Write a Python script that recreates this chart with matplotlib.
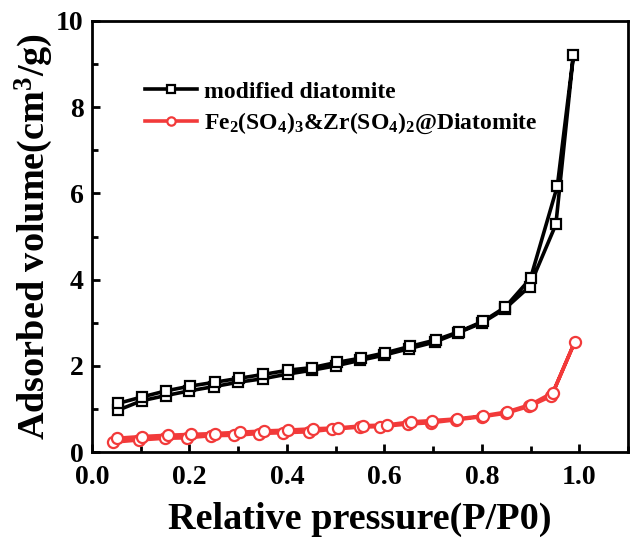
import matplotlib
matplotlib.use('Agg')
import matplotlib.pyplot as plt
from matplotlib.ticker import MultipleLocator

plt.rcParams['font.family'] = ['Liberation Serif', 'DejaVu Serif']
plt.rcParams['font.weight'] = 'bold'
plt.rcParams['mathtext.fontset'] = 'custom'
plt.rcParams['mathtext.rm'] = 'Liberation Serif:bold'
plt.rcParams['mathtext.it'] = 'Liberation Serif:bold'
plt.rcParams['mathtext.bf'] = 'Liberation Serif:bold'

# modified diatomite: adsorption (P/P0 ascending) then desorption (descending)
md_p = [0.053, 0.102, 0.151, 0.200, 0.251, 0.300, 0.350, 0.402, 0.452, 0.500,
        0.551, 0.600, 0.651, 0.703, 0.752, 0.801, 0.847, 0.898, 0.952, 0.988,
        0.955, 0.900, 0.848, 0.802, 0.753, 0.705, 0.652, 0.601, 0.552, 0.502,
        0.452, 0.403, 0.351, 0.301, 0.252, 0.201, 0.152, 0.103, 0.054]
md_v = [0.97, 1.19, 1.31, 1.42, 1.52, 1.62, 1.70, 1.81, 1.90, 2.00,
        2.13, 2.25, 2.40, 2.55, 2.77, 3.00, 3.32, 3.84, 5.28, 9.21,
        6.17, 4.03, 3.36, 3.03, 2.79, 2.60, 2.45, 2.30, 2.18, 2.08,
        1.96, 1.90, 1.80, 1.71, 1.62, 1.53, 1.42, 1.28, 1.13]

# Fe2(SO4)3&Zr(SO4)2@Diatomite
fz_p = [0.043, 0.096, 0.149, 0.194, 0.245, 0.292, 0.343, 0.393, 0.446, 0.493,
        0.550, 0.592, 0.648, 0.695, 0.748, 0.800, 0.849, 0.897, 0.943, 0.991,
        0.946, 0.900, 0.851, 0.802, 0.750, 0.698, 0.654, 0.606, 0.556, 0.505,
        0.454, 0.403, 0.354, 0.303, 0.252, 0.204, 0.155, 0.102, 0.051]
fz_v = [0.23, 0.28, 0.32, 0.33, 0.38, 0.39, 0.43, 0.45, 0.47, 0.53,
        0.58, 0.59, 0.65, 0.68, 0.75, 0.82, 0.90, 1.06, 1.30, 2.56,
        1.38, 1.10, 0.93, 0.84, 0.77, 0.73, 0.70, 0.63, 0.61, 0.56,
        0.54, 0.51, 0.49, 0.46, 0.43, 0.41, 0.39, 0.36, 0.32]

fig = plt.figure(figsize=(6.31, 5.44), dpi=100)
ax = fig.add_axes([0.1458, 0.169, 0.8494, 0.7924])

ax.plot(md_p, md_v, color='black', linewidth=2.6, marker='s', markersize=7,
        markerfacecolor='white', markeredgecolor='black', markeredgewidth=1.6,
        label='modified diatomite')
ax.plot(fz_p, fz_v, color='#f23a3a', linewidth=2.6, marker='o', markersize=8,
        markerfacecolor='white', markeredgecolor='#f23a3a', markeredgewidth=1.6,
        label=r'Fe$_2$(SO$_4$)$_3$&Zr(SO$_4$)$_2$@Diatomite')

ax.set_xlim(0, 1.1)
ax.set_ylim(0, 10)
ax.xaxis.set_minor_locator(MultipleLocator(0.1))
ax.yaxis.set_major_locator(MultipleLocator(2))
ax.yaxis.set_minor_locator(MultipleLocator(1))
ax.set_xticks([0.0, 0.2, 0.4, 0.6, 0.8, 1.0])
ax.set_xticklabels(['0.0', '0.2', '0.4', '0.6', '0.8', '1.0'])
ax.tick_params(which='major', direction='in', length=6, width=2, labelsize=20)
ax.tick_params(which='minor', direction='in', length=4, width=2)
ax.tick_params(axis='x', which='major', pad=9)
ax.tick_params(axis='y', which='major', pad=6)
for s in ax.spines.values():
    s.set_linewidth(2)

ax.set_xlabel('Relative pressure(P/P0)', fontsize=27.5, fontweight='bold', labelpad=9)
ax.set_ylabel(r'Adsorbed volume(cm$^3$/g)', fontsize=27.5, fontweight='bold', labelpad=1)

ax.legend(loc='upper left', bbox_to_anchor=(0.06, 0.91), frameon=False,
          fontsize=17, handlelength=2.2, labelspacing=0.35, handletextpad=0.3,
          markerscale=0.75)

fig.savefig('out.png', dpi=100)
